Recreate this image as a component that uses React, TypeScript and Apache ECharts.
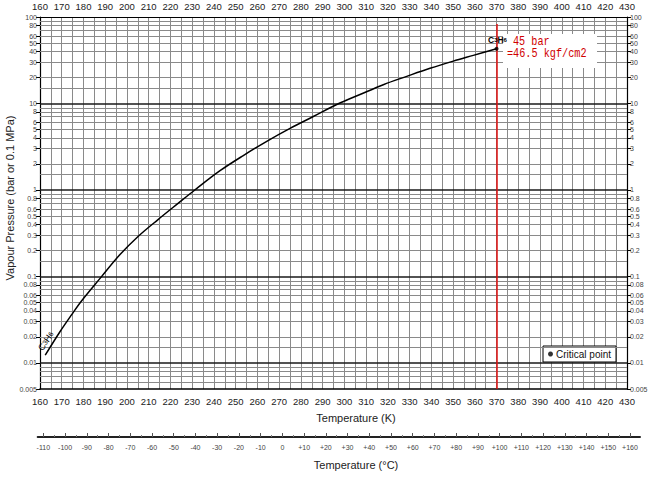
import React, { useEffect, useRef } from "react";
import * as echarts from "echarts";

// ---- data ----
const tempK = [162.4, 169.1, 174.4, 179.0, 188.2, 196.7, 205.1, 214.3, 223.5, 231.2, 242.8, 253.5, 264.3, 275.0, 285.7, 296.5, 307.2, 317.9, 328.7, 339.4, 350.1, 359.3, 370];
const pressureBar = [0.0123, 0.0228, 0.0357, 0.0518, 0.0989, 0.178, 0.29, 0.455, 0.7, 1.0, 1.67, 2.5, 3.65, 5.15, 7.07, 9.73, 12.7, 16.5, 20.6, 25.5, 30.9, 36.0, 43];
const criticalPoint = [370, 43];
const yTickLabels = [100, 80, 60, 50, 40, 30, 20, 10, 8, 6, 5, 4, 3, 2, 1, 0.8, 0.6, 0.5, 0.4, 0.3, 0.2, 0.1, 0.08, 0.06, 0.05, 0.04, 0.03, 0.02, 0.01, 0.005];
const celsiusLabels = [-110, -100, -90, -80, -70, -60, -50, -40, -30, -20, -10, 0, 10, 20, 30, 40, 50, 60, 70, 80, 90, 100, 110, 120, 130, 140, 150, 160];
const decades = [0.001, 0.01, 0.1, 1, 10];
const gridMultipliers = [1, 1.5, 2, 3, 4, 5, 6, 7, 8, 9];

const FONT = "Liberation Sans, Arial, sans-serif";
const MONO = "'Liberation Mono', 'DejaVu Sans Mono', monospace";
const Y_MIN = Math.log10(0.005);
const Y_MAX = 2;

function fmtP(v: number) {
  let best = yTickLabels[0];
  let d = Infinity;
  for (const p of yTickLabels) {
    const dd = Math.abs(Math.log10(p) - v);
    if (dd < d) { d = dd; best = p; }
  }
  return String(best);
}

export default function App() {
  const ref = useRef<HTMLDivElement>(null);
  useEffect(() => {
    if (!ref.current) return;
    const chart = echarts.init(ref.current, null, { renderer: "svg" });

    const gridLines: any[] = [];
    decades.forEach((dec) => {
      gridMultipliers.forEach((m) => {
        const v = dec * m;
        if (v < 0.0051 || v > 99) return;
        const heavy = m === 1;
        gridLines.push({
          yAxis: Math.log10(v),
          lineStyle: { color: heavy ? "#1a1a1a" : "#8a8a8a", width: heavy ? 1.6 : 1, type: "solid" },
        });
      });
    });

    const yLabelLogs = yTickLabels.map((v) => Math.log10(v));
    const cMinor: number[] = [];
    for (let c = -105; c <= 165; c += 10) cMinor.push(c);

    const yAxisCommon = (pos: "left" | "right") => ({
      type: "value",
      gridIndex: 0,
      position: pos,
      min: Y_MIN,
      max: Y_MAX,
      axisLine: { show: true, lineStyle: { color: "#000", width: 1.2 } },
      axisTick: { show: true, length: 4, customValues: yLabelLogs, lineStyle: { color: "#000" } },
      axisLabel: { customValues: yLabelLogs, formatter: (v: number) => fmtP(v), fontSize: 7, color: "#444", fontFamily: FONT, margin: 3 },
      splitLine: { show: false },
    });

    chart.setOption({
      animation: false,
      backgroundColor: "#fff",
      grid: [
        { left: 40, right: 24, top: 17, bottom: 88 },
        { left: 37.7, right: 11, top: 436, height: 1 },
      ],
      legend: {
        data: [{ name: "Critical point", icon: "circle" }],
        left: 543,
        top: 346,
        itemWidth: 5,
        itemHeight: 5,
        itemGap: 4,
        padding: [3, 5, 3, 5],
        backgroundColor: "#fff",
        borderColor: "#000",
        borderWidth: 1,
        borderRadius: 0,
        textStyle: { fontSize: 10, color: "#111", fontFamily: FONT, padding: [0, 0, 0, -2] },
        selectedMode: false,
      },
      xAxis: [
        {
          type: "value", gridIndex: 0, position: "bottom", min: 160, max: 430, interval: 10,
          axisLine: { show: true, onZero: false, lineStyle: { color: "#000", width: 1.5 } },
          axisTick: { show: false },
          axisLabel: { fontSize: 9.5, color: "#222", fontFamily: FONT, margin: 7 },
          splitLine: { show: true, lineStyle: { color: "#8a8a8a", width: 1 } },
          minorTick: { show: false, splitNumber: 2 },
          minorSplitLine: { show: true, lineStyle: { color: "#8a8a8a", width: 1 } },
        },
        {
          type: "value", gridIndex: 0, position: "top", min: 160, max: 430, interval: 10,
          axisLine: { show: true, onZero: false, lineStyle: { color: "#000", width: 1.2 } },
          axisTick: { show: false },
          axisLabel: { fontSize: 9.5, color: "#222", fontFamily: FONT, margin: 6 },
          splitLine: { show: false },
        },
        {
          type: "value", gridIndex: 1, position: "bottom", min: -112.6, max: 164.6,
          axisLine: { show: true, onZero: false, lineStyle: { color: "#222", width: 2 } },
          axisTick: { show: true, inside: true, length: 4, customValues: celsiusLabels, lineStyle: { color: "#555" } },
          axisLabel: { customValues: celsiusLabels, formatter: (v: number) => (v > 0 ? "+" + v : String(v)), fontSize: 7, color: "#444", fontFamily: FONT, margin: 7 },
          splitLine: { show: false },
        },
        {
          type: "value", gridIndex: 1, position: "bottom", min: -112.6, max: 164.6,
          axisLine: { show: false },
          axisTick: { show: true, inside: true, length: 2, customValues: cMinor, lineStyle: { color: "#777" } },
          axisLabel: { show: false },
          splitLine: { show: false },
        },
      ],
      yAxis: [
        yAxisCommon("left"),
        yAxisCommon("right"),
        { type: "value", gridIndex: 1, show: false, min: 0, max: 1 },
      ],
      series: [
        {
          type: "line",
          name: "C3H6",
          xAxisIndex: 0,
          yAxisIndex: 0,
          data: tempK.map((t, i) => [t, Math.log10(pressureBar[i])]),
          smooth: 0.35,
          showSymbol: false,
          lineStyle: { color: "#000", width: 1.5 },
          z: 5,
          markLine: {
            silent: true,
            symbol: "none",
            label: { show: false },
            animation: false,
            data: [
              ...gridLines,
              [
                { coord: [370, Math.log10(83)], lineStyle: { color: "#e01010", width: 1.5, type: "solid" } },
                { coord: [370, Y_MIN] },
              ],
            ],
          },
        },
        {
          type: "scatter",
          name: "Critical point",
          xAxisIndex: 0,
          yAxisIndex: 0,
          data: [[criticalPoint[0], Math.log10(criticalPoint[1])]],
          symbolSize: 4,
          itemStyle: { color: "#000" },
          z: 6,
        },
      ],
      graphic: [
        {
          type: "rect", z: 50,
          shape: { x: 503, y: 34, width: 94, height: 34 },
          style: { fill: "#fff" },
        },
        {
          type: "text", z: 51, x: 513, y: 42, scaleX: 0.85,
          style: { text: "45 bar", fill: "#d00000", font: "12px " + MONO, textVerticalAlign: "middle" },
        },
        {
          type: "text", z: 51, x: 507, y: 54, scaleX: 0.85,
          style: { text: "=46.5 kgf/cm2", fill: "#d00000", font: "12px " + MONO, textVerticalAlign: "middle" },
        },
        {
          type: "text", z: 51, x: 488, y: 44,
          style: {
            text: "{a|C}{b|3}{a|H}{b|6}",
            textVerticalAlign: "bottom",
            rich: {
              a: { fontSize: 8.5, fontFamily: FONT, fill: "#000", fontWeight: "bold" },
              b: { fontSize: 6, fontFamily: FONT, fill: "#000", fontWeight: "bold" },
            },
          },
        },
        {
          type: "text", z: 51, x: 46, y: 341, rotation: 0.98,
          style: {
            text: "{a|C}{b|3}{a|H}{b|6}",
            textAlign: "center",
            textVerticalAlign: "middle",
            rich: {
              a: { fontSize: 9, fontFamily: FONT, fill: "#000" },
              b: { fontSize: 7, fontFamily: FONT, fill: "#000" },
            },
          },
        },
        {
          type: "text", z: 51, x: 356, y: 418,
          style: { text: "Temperature (K)", font: "11px " + FONT, fill: "#222", textAlign: "center", textVerticalAlign: "middle" },
        },
        {
          type: "text", z: 51, x: 356, y: 465,
          style: { text: "Temperature (°C)", font: "11px " + FONT, fill: "#222", textAlign: "center", textVerticalAlign: "middle" },
        },
        {
          type: "text", z: 51, x: 10, y: 198, rotation: Math.PI / 2,
          style: { text: "Vapour Pressure (bar or 0.1 MPa)", font: "11px " + FONT, fill: "#222", textAlign: "center", textVerticalAlign: "middle" },
        },
      ],
    });
    return () => chart.dispose();
  }, []);
  return <div ref={ref} style={{ position: "fixed", left: 0, top: 0, width: 651, height: 477, background: "#fff" }} />;
}
